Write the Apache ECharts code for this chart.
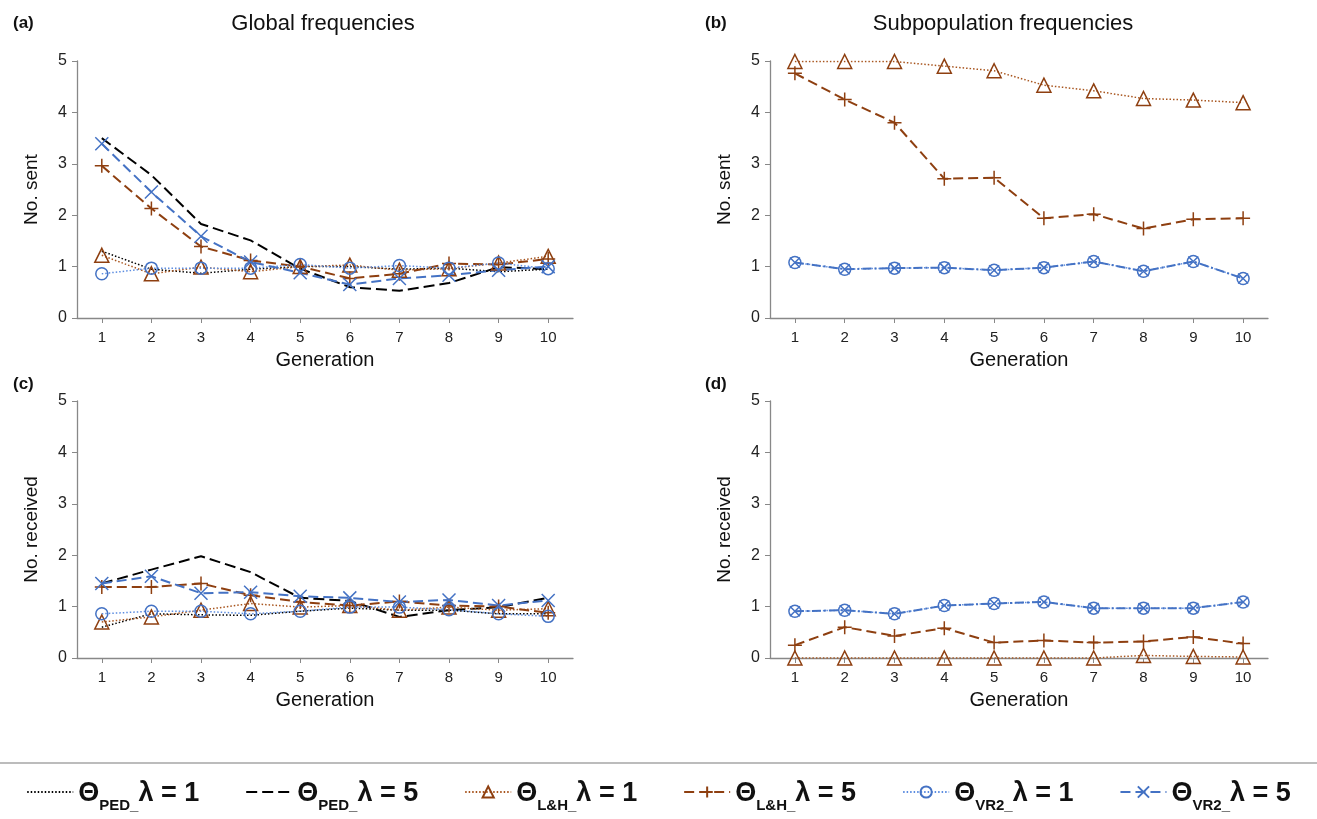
<!DOCTYPE html>
<html>
<head>
<meta charset="utf-8">
<script src="https://cdn.jsdelivr.net/npm/echarts@6/dist/echarts.min.js"></script>
<style>
html,body{margin:0;padding:0;background:#fff;}
#main{width:1317px;height:819px;}
</style>
</head>
<body>
<div id="main"></div>
<script>
// generations
var gens = ['1','2','3','4','5','6','7','8','9','10'];

// (a) global, sent
var aPed1 = [1.3, 0.95, 0.87, 0.95, 1.0, 1.0, 0.95, 0.97, 0.9, 0.95];
var aPed5 = [3.5, 2.78, 1.83, 1.51, 0.96, 0.6, 0.53, 0.68, 0.99, 0.95];
var aLH1 = [1.22, 0.86, 0.99, 0.9, 1.0, 1.03, 0.93, 0.96, 1.07, 1.2];
var aLH5 = [2.96, 2.13, 1.39, 1.12, 1.0, 0.77, 0.86, 1.06, 1.04, 1.15];
var aVR1 = [0.86, 0.97, 0.97, 0.97, 1.04, 0.97, 1.02, 0.97, 1.07, 0.96];
var aVR5 = [3.39, 2.45, 1.59, 1.09, 0.88, 0.65, 0.77, 0.83, 0.93, 1.0];

// (b) subpopulation, sent
var bLH1 = [4.99, 4.99, 4.99, 4.9, 4.81, 4.53, 4.42, 4.27, 4.24, 4.19];
var bLH5 = [4.76, 4.25, 3.8, 2.71, 2.73, 1.94, 2.02, 1.74, 1.92, 1.94];
var bVR1 = [1.08, 0.95, 0.97, 0.98, 0.93, 0.98, 1.1, 0.91, 1.1, 0.77];
var bVR5 = [1.08, 0.95, 0.97, 0.98, 0.93, 0.98, 1.1, 0.91, 1.1, 0.77];

// (c) global, received
var cPed1 = [0.6, 0.86, 0.84, 0.83, 0.91, 0.97, 0.93, 0.93, 0.86, 0.86];
var cPed5 = [1.45, 1.72, 1.98, 1.67, 1.17, 1.11, 0.8, 0.93, 0.99, 1.17];
var cLH1 = [0.7, 0.8, 0.93, 1.06, 0.99, 1.02, 0.93, 0.99, 0.93, 0.96];
var cLH5 = [1.38, 1.38, 1.45, 1.22, 1.09, 1.02, 1.1, 1.02, 1.0, 0.88];
var cVR1 = [0.86, 0.91, 0.91, 0.86, 0.91, 0.99, 0.99, 0.94, 0.86, 0.81];
var cVR5 = [1.45, 1.59, 1.26, 1.28, 1.2, 1.17, 1.09, 1.13, 1.02, 1.12];

// (d) subpopulation, received
var dLH1 = [0, 0, 0, 0, 0, 0, 0, 0.05, 0.03, 0.02];
var dLH5 = [0.25, 0.6, 0.43, 0.58, 0.3, 0.34, 0.3, 0.32, 0.41, 0.28];
var dVR1 = [0.91, 0.93, 0.86, 1.02, 1.06, 1.09, 0.97, 0.97, 0.97, 1.09];
var dVR5 = [0.91, 0.93, 0.86, 1.02, 1.06, 1.09, 0.97, 0.97, 0.97, 1.09];

var BROWN = '#8E3F10';
var BROWN2 = '#A8551E';
var BLUE = '#4472C4';
var BLUE2 = '#5B8CE0';

var N = {
    ped1: 'ΘPED_λ = 1', ped5: 'ΘPED_λ = 5',
    lh1: 'ΘL&H_λ = 1', lh5: 'ΘL&H_λ = 5',
    vr1: 'ΘVR2_λ = 1', vr5: 'ΘVR2_λ = 5'
};
var rich = {};
rich[N.ped1] = '{t|Θ}{s|PED_}{t|λ = 1}';
rich[N.ped5] = '{t|Θ}{s|PED_}{t|λ = 5}';
rich[N.lh1] = '{t|Θ}{s|L&H_}{t|λ = 1}';
rich[N.lh5] = '{t|Θ}{s|L&H_}{t|λ = 5}';
rich[N.vr1] = '{t|Θ}{s|VR2_}{t|λ = 1}';
rich[N.vr5] = '{t|Θ}{s|VR2_}{t|λ = 5}';

var plus = 'path://M5,0 L5,10 M0,5 L10,5';
var cross = 'path://M0,0 L10,10 M10,0 L0,10';

var sty = {
    ped1: {symbol: 'none', lineStyle: {color: '#000', width: 1.5, type: [1.5, 2]}, itemStyle: {color: '#000'}},
    ped5: {symbol: 'none', lineStyle: {color: '#000', width: 2, type: [11, 5]}, itemStyle: {color: '#000'}},
    lh1: {symbol: 'triangle', symbolSize: 14, lineStyle: {color: BROWN2, width: 1.5, type: [1.5, 2]}, itemStyle: {color: 'rgba(0,0,0,0)', borderColor: BROWN, borderWidth: 1.5}},
    lh5: {symbol: plus, symbolSize: 14, lineStyle: {color: BROWN, width: 2, type: [10, 5]}, itemStyle: {color: BROWN, borderColor: BROWN, borderWidth: 1.5}},
    vr1: {symbol: 'circle', symbolSize: 12, lineStyle: {color: BLUE2, width: 1.5, type: [1.5, 2]}, itemStyle: {color: 'rgba(0,0,0,0)', borderColor: BLUE, borderWidth: 1.5}},
    vr5: {symbol: cross, symbolSize: 13, lineStyle: {color: BLUE, width: 2, type: [10, 5]}, itemStyle: {color: BLUE, borderColor: BLUE, borderWidth: 1.5}}
};
var styBD = {
    vr5: {symbol: cross, symbolSize: 10, lineStyle: {color: BLUE, width: 2, type: [9, 3, 2, 3]}, itemStyle: {color: BLUE, borderColor: BLUE, borderWidth: 1.5}}
};

function mk(key, idx, data, alt) {
    var s = alt || sty[key];
    return {
        name: N[key], type: 'line', xAxisIndex: idx, yAxisIndex: idx,
        data: data, symbol: s.symbol, symbolSize: s.symbolSize,
        showSymbol: s.symbol !== 'none',
        lineStyle: s.lineStyle, itemStyle: s.itemStyle,
        animation: false, z: 3
    };
}

var grids = [
    {left: 77, top: 61, width: 496, height: 257},
    {left: 770, top: 61, width: 498, height: 257},
    {left: 77, top: 401, width: 496, height: 257},
    {left: 770, top: 401, width: 498, height: 257}
];
var yNames = ['No. sent', 'No. sent', 'No. received', 'No. received'];

var xAxes = [], yAxes = [];
for (var i = 0; i < 4; i++) {
    xAxes.push({
        type: 'category', gridIndex: i, data: gens, boundaryGap: true,
        name: 'Generation', nameLocation: 'middle', nameGap: 32,
        nameTextStyle: {fontSize: 20, color: '#111', fontFamily: 'Liberation Sans'},
        axisLine: {lineStyle: {color: '#888', width: 1.3}},
        axisTick: {show: true, alignWithLabel: true, length: 5, lineStyle: {color: '#888'}},
        axisLabel: {fontSize: 15, color: '#222', margin: 12, fontFamily: 'Liberation Sans'},
        splitLine: {show: false}
    });
    yAxes.push({
        type: 'value', gridIndex: i, min: 0, max: 5, interval: 1,
        name: yNames[i], nameLocation: 'middle', nameGap: 36, nameRotate: 90,
        nameTextStyle: {fontSize: 19, color: '#111', fontFamily: 'Liberation Sans'},
        axisLine: {show: true, lineStyle: {color: '#888', width: 1.3}},
        axisTick: {show: true, length: 5, lineStyle: {color: '#888'}},
        axisLabel: {fontSize: 16, color: '#222', margin: 10, fontFamily: 'Liberation Sans'},
        splitLine: {show: false}
    });
}

var series = [
    mk('ped1', 0, aPed1), mk('ped5', 0, aPed5), mk('lh1', 0, aLH1), mk('lh5', 0, aLH5), mk('vr1', 0, aVR1), mk('vr5', 0, aVR5),
    mk('lh1', 1, bLH1), mk('lh5', 1, bLH5), mk('vr1', 1, bVR1), mk('vr5', 1, bVR5, styBD.vr5),
    mk('ped1', 2, cPed1), mk('ped5', 2, cPed5), mk('lh1', 2, cLH1), mk('lh5', 2, cLH5), mk('vr1', 2, cVR1), mk('vr5', 2, cVR5),
    mk('lh1', 3, dLH1), mk('lh5', 3, dLH5), mk('vr1', 3, dVR1), mk('vr5', 3, dVR5, styBD.vr5)
];

var hide = {opacity: 0};
var myChart = echarts.init(document.getElementById('main'));
var option = {
    backgroundColor: '#fff',
    title: [
        {text: 'Global frequencies', left: 318, top: 8, textAlign: 'center', textStyle: {fontSize: 22, fontWeight: 'normal', color: '#111', fontFamily: 'Liberation Sans'}},
        {text: 'Subpopulation frequencies', left: 998, top: 8, textAlign: 'center', textStyle: {fontSize: 22, fontWeight: 'normal', color: '#111', fontFamily: 'Liberation Sans'}},
        {text: '(a)', left: 8, top: 10, textStyle: {fontSize: 17, fontWeight: 'bold', color: '#111', fontFamily: 'Liberation Sans'}},
        {text: '(b)', left: 700, top: 10, textStyle: {fontSize: 17, fontWeight: 'bold', color: '#111', fontFamily: 'Liberation Sans'}},
        {text: '(c)', left: 8, top: 371, textStyle: {fontSize: 17, fontWeight: 'bold', color: '#111', fontFamily: 'Liberation Sans'}},
        {text: '(d)', left: 700, top: 371, textStyle: {fontSize: 17, fontWeight: 'bold', color: '#111', fontFamily: 'Liberation Sans'}}
    ],
    legend: {
        data: [
            {name: N.ped1, itemStyle: hide}, {name: N.ped5, itemStyle: hide},
            N.lh1, N.lh5, N.vr1, N.vr5
        ],
        left: 'center', top: 775, itemWidth: 46, itemHeight: 14, itemGap: 46,
        formatter: function (name) { return rich[name]; },
        textStyle: {
            color: '#111',
            rich: {
                t: {fontSize: 27, fontWeight: 'bold', fontFamily: 'Liberation Sans', color: '#111', verticalAlign: 'bottom', lineHeight: 30},
                s: {fontSize: 15, fontWeight: 'bold', fontFamily: 'Liberation Sans', color: '#111', verticalAlign: 'bottom', lineHeight: 19, padding: [0, 0, -6, 0]}
            }
        }
    },
    graphic: [{
        type: 'line', shape: {x1: 0, y1: 763, x2: 1317, y2: 763},
        style: {stroke: '#a6a6a6', lineWidth: 1.5}
    }],
    grid: grids,
    xAxis: xAxes,
    yAxis: yAxes,
    series: series
};
myChart.setOption(option);
</script>
</body>
</html>
